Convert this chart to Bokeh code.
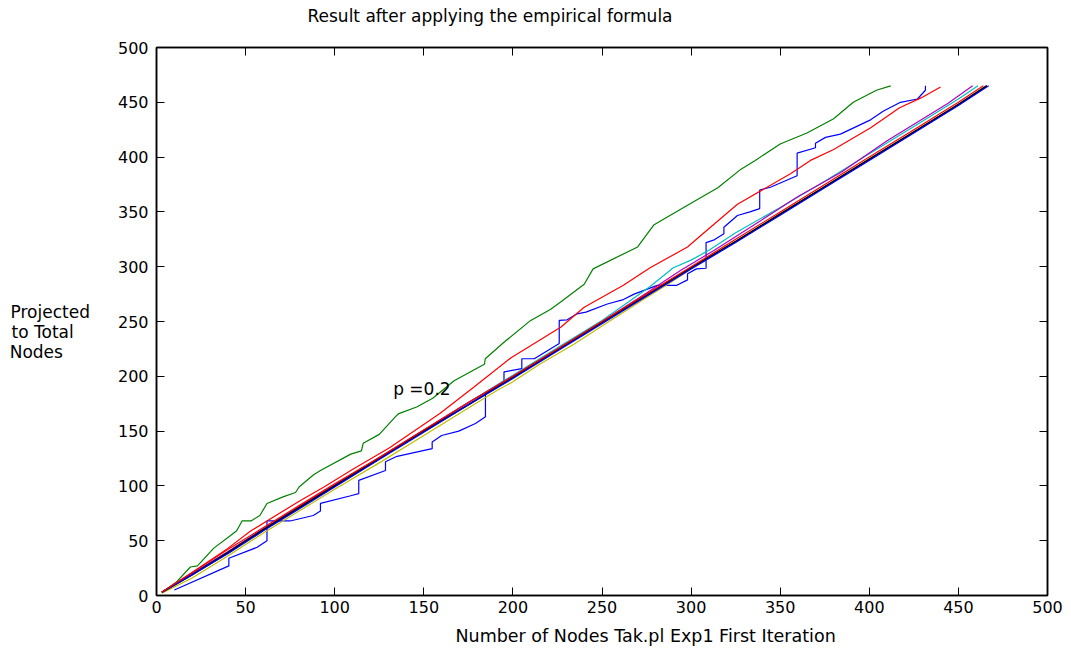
from bokeh.plotting import figure
from bokeh.models import Range1d, LinearAxis, FixedTicker, Label, Title, CustomJSTickFormatter
from bokeh.embed import file_html
from bokeh.resources import INLINE

# ---------------- data ----------------
x_ticks = [0, 50, 100, 150, 200, 250, 300, 350, 400, 450, 500]
y_ticks = [0, 50, 100, 150, 200, 250, 300, 350, 400, 450, 500]

title_text = "Result after applying the empirical formula"
xlabel_text = "Number of Nodes  Tak.pl Exp1 First Iteration"
ylabel_lines = ["Projected", "to Total", "Nodes"]
note_text = "p =0.2"

# blue stepped line
blue_step_x = [10, 40.6, 40.6, 56.5, 62, 62, 75, 88, 92, 92, 109, 113.5, 113.5, 128.5, 128.5, 135,
               154.7, 154.7, 160, 169.6, 179, 184.6, 184.6, 195, 195, 205, 205, 212, 226, 226,
               230.5, 236, 241, 253, 262, 268, 281, 292, 298, 298, 303, 308.4, 308.4, 313, 318.4,
               318.4, 326, 333, 338.5, 338.5, 344.5, 359.5, 359.5, 369.8, 369.8, 375.4, 383.8,
               400.7, 408, 417.5, 427, 431.5, 431.5]
blue_step_y = [5, 27, 34, 44, 50, 68, 68, 73, 77, 84, 91, 93, 105, 114, 122, 127,
               134, 140, 146, 150, 157, 163, 184, 196, 204, 207, 216, 216, 230, 251,
               251.5, 257, 258.5, 266, 270, 275, 283, 283, 288, 293.5, 298, 298.6, 322, 324.5, 330,
               336, 346.7, 350, 353, 370, 372.5, 383, 403.6, 408.5, 412.7, 418, 421,
               434, 442, 450, 453, 461, 465]

# green upper line
green_x = [3, 11, 19, 23, 32, 41, 45, 48, 53, 58, 62, 71, 78, 80, 88, 92, 109, 115, 116, 125,
           134, 136, 146, 155, 167, 176, 184, 184.5, 195, 210, 221, 227, 240, 245, 270, 279,
           298, 315, 328, 336, 350, 365, 380, 391, 404, 412]
green_y = [3, 12, 26, 27, 43, 54, 59, 68, 68, 73, 84, 90, 94, 99, 110, 114, 129, 132, 139, 147,
           163, 166, 172, 180, 196, 204, 211, 216, 231, 251, 261, 268, 284, 298, 318, 338,
           356, 372, 389, 397, 412, 422, 435, 450, 461, 465]

# red upper line
red_up_x = [3, 20, 40, 53, 81, 94, 109, 131, 159, 178, 199, 227, 240, 262, 277, 298, 303, 326,
            356, 367, 380, 401, 417, 429, 440]
red_up_y = [3, 21, 43, 59, 87, 99, 114, 135, 166, 190, 217, 245, 263, 283, 299, 318, 325, 357,
            385, 397, 407, 427, 445, 454, 464]

# bundle lines near the diagonal
cyan_x = [3, 20, 40, 60, 80, 100, 125, 150, 175, 200, 225, 250, 265, 277, 290, 300, 310, 325,
          350, 375, 400, 425, 450, 461]
cyan_y = [3, 20, 40, 61, 81, 101, 126, 151, 176, 201, 226, 251, 268, 282, 299, 306, 315, 331,
          354, 378, 403, 428, 453, 465]

magenta_x = [3, 20, 40, 60, 80, 100, 125, 150, 175, 200, 225, 250, 275, 294, 313, 339, 360,
             384, 410, 444, 458]
magenta_y = [3, 20, 40, 61, 81, 101, 126, 151, 176, 200, 225, 250, 276, 296.5, 315, 342, 364,
             386, 415, 449, 465]

yellow_x = [3, 20, 40, 60, 80, 100, 125, 150, 175, 191, 200, 215, 234, 250, 275, 287, 300, 325,
            350, 375, 400, 425, 450, 466]
yellow_y = [2, 16, 36, 57, 77, 97, 121, 146, 171, 187, 195, 211, 229, 246, 272, 284, 298, 323,
            348, 373, 398, 423, 448, 465]

black_x = [3, 20, 40, 60, 80, 100, 125, 150, 175, 200, 225, 250, 275, 300, 325, 350, 375, 400,
           425, 450, 466]
black_y = [3, 19, 39, 60, 80, 100, 125, 150, 174, 199, 224, 249, 274, 299, 323, 348, 373, 398,
           423, 448, 465]

blue_x = [3, 20, 40, 60, 80, 100, 125, 150, 175, 200, 225, 250, 275, 300, 325, 350, 375, 400,
          425, 450, 467]
blue_y = [3, 19, 38, 59, 79, 99, 124, 149, 174, 198, 223, 248, 273, 298, 322, 347, 372, 397,
          422, 447, 465]

red_x = [3, 20, 40, 60, 80, 100, 125, 150, 175, 200, 225, 250, 275, 300, 325, 350, 375, 400,
         425, 450, 464]
red_y = [3, 21, 42, 62, 82, 102, 126, 151, 176, 200, 225, 250, 275, 300, 325, 350, 375, 400,
         425, 450, 465]

series = [
    (blue_step_x, blue_step_y, "#0000FF", 1.2),
    (green_x, green_y, "#008000", 1.2),
    (red_up_x, red_up_y, "#FF0000", 1.2),
    (cyan_x, cyan_y, "#00BFBF", 1.2),
    (magenta_x, magenta_y, "#B000C0", 1.2),
    (yellow_x, yellow_y, "#BFBF00", 1.2),
    (black_x, black_y, "#000000", 1.8),
    (blue_x, blue_y, "#0000FF", 1.2),
    (red_x, red_y, "#FF0000", 1.2),
]

# ---------------- figure ----------------
FONT = "DejaVu Sans"
NBSP = "\u00a0"

p = figure(width=1071, height=656, output_backend="svg", toolbar_location=None,
           x_range=Range1d(0, 500), y_range=Range1d(0, 500),
           min_border_left=156, min_border_right=24, min_border_top=47, min_border_bottom=61)
p.xgrid.visible = False
p.ygrid.visible = False
p.background_fill_color = "white"
p.border_fill_color = "white"
p.outline_line_color = "black"
p.outline_line_width = 1.5

for xs, ys, col, lw in series:
    p.line(xs, ys, line_color=col, line_width=lw)


def style_axis(ax, ticks, show_labels):
    ax.ticker = FixedTicker(ticks=ticks)
    ax.axis_line_color = "black"
    ax.axis_line_width = 1.5
    ax.major_tick_in = 8
    ax.major_tick_out = 0
    ax.major_tick_line_color = "black"
    ax.major_tick_line_width = 1
    ax.minor_tick_line_color = None
    if show_labels:
        ax.major_label_text_font = FONT
        ax.major_label_text_font_size = "16px"
        ax.major_label_text_color = "black"
    else:
        ax.formatter = CustomJSTickFormatter(code="return ''")
        ax.major_label_text_font_size = "0px"
        ax.major_label_standoff = 0


style_axis(p.xaxis[0], x_ticks, True)
p.xaxis[0].major_label_standoff = 5
style_axis(p.yaxis[0], y_ticks, True)
p.yaxis[0].major_label_standoff = 8

top_ax = LinearAxis()
style_axis(top_ax, x_ticks, False)
p.add_layout(top_ax, "above")
right_ax = LinearAxis()
style_axis(right_ax, y_ticks, False)
p.add_layout(right_ax, "right")

# title (a blank second line lifts the text towards the top edge)
p.title.text = title_text + "\n" + NBSP
p.title.align = "left"
p.title.offset = 151
p.title.text_font = FONT
p.title.text_font_size = "17px"
p.title.text_font_style = "normal"
p.title.text_color = "black"
p.title.standoff = 3

# x label as a caption below the axis
xcap = Title(text=xlabel_text, align="left", offset=299, text_font=FONT,
             text_font_size="17.5px", text_font_style="normal", text_color="black", standoff=17)
p.add_layout(xcap, "below")

# y label: horizontal multi-line axis label; lines padded so the block reads left-aligned
pad = {"Projected": 0, "to Total": 3, "Nodes": 5}
ylines = [NBSP] + [ln + NBSP * pad.get(ln, 0) for ln in ylabel_lines]
yax = p.yaxis[0]
yax.axis_label = "\n".join(ylines)
yax.axis_label_orientation = "horizontal"
yax.axis_label_text_font = FONT
yax.axis_label_text_font_size = "17px"
yax.axis_label_text_font_style = "normal"
yax.axis_label_text_color = "black"
yax.axis_label_text_line_height = 1.0
yax.axis_label_standoff = 25

# annotation inside the axes
p.add_layout(Label(x=132.8, y=188.0, text=note_text, text_font=FONT, text_font_size="17px",
                   text_color="black", text_align="left", text_baseline="middle"))

open("out.html", "w").write(file_html(p, INLINE))
